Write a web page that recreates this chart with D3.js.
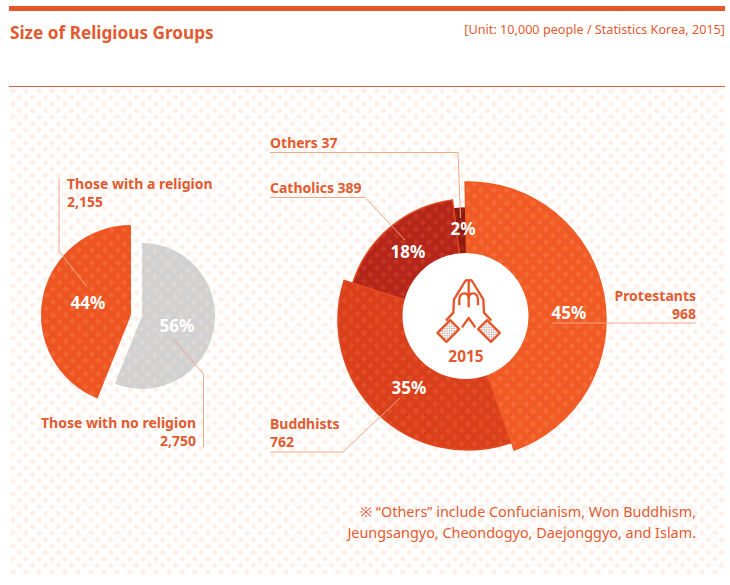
<!DOCTYPE html>
<html>
<head>
<meta charset="utf-8">
<script src="https://cdn.jsdelivr.net/npm/d3@7"></script>
<style>
  html, body { margin: 0; padding: 0; background: #fff; }
  svg { display: block; }
  text { font-family: "Noto Sans", "Noto Sans CJK KR", sans-serif; }
</style>
</head>
<body>
<svg id="chart" width="730" height="585"></svg>
<script>
'use strict';

var title = 'Size of Religious Groups';
var unitNote = '[Unit: 10,000 people / Statistics Korea, 2015]';
var footNotes = ['※ “Others” include Confucianism, Won Buddhism,', 'Jeungsangyo, Cheondogyo, Daejonggyo, and Islam.'];

var shareGroups = ['Those with no religion', 'Those with a religion'];
var shareValues = [2750, 2155];

var groups = ['Protestants', 'Buddhists', 'Catholics', 'Others'];
var groupValues = [968, 762, 389, 37];
var centerYear = '2015';

var ORANGE = '#e35a31';
var LEADER = '#f0a988';
var TILE = 13;

var svg = d3.select('#chart');
var defs = svg.append('defs');

function addPattern(id, base, dot) {
  var p = defs.append('pattern')
    .attr('id', id)
    .attr('patternUnits', 'userSpaceOnUse')
    .attr('width', TILE)
    .attr('height', TILE);
  p.append('rect').attr('width', TILE).attr('height', TILE).attr('fill', base);
  [[0, 0], [TILE, 0], [0, TILE], [TILE, TILE], [TILE / 2, TILE / 2]].forEach(function (c) {
    p.append('path')
      .attr('d', 'M' + c[0] + ' ' + (c[1] - 3.2) + 'L' + (c[0] + 3.2) + ' ' + c[1] + 'L' + c[0] + ' ' + (c[1] + 3.2) + 'L' + (c[0] - 3.2) + ' ' + c[1] + 'Z')
      .attr('fill', dot);
  });
}
addPattern('bg', '#ffffff', '#fdf0e9');
addPattern('p-prot', '#f15a24', '#f36a35');
addPattern('p-budd', '#da3f1b', '#e14c25');
addPattern('p-cath', '#b5251a', '#c03420');
addPattern('p-oth', '#8f1a10', '#9e2614');
addPattern('p-rel', '#ee5421', '#f16430');
addPattern('p-non', '#d1d1d1', '#dad7d4');

// frame
svg.append('rect').attr('x', 10).attr('y', 87).attr('width', 715).attr('height', 488).attr('fill', 'url(#bg)');
svg.append('rect').attr('x', 9).attr('y', 6).attr('width', 716).attr('height', 5).attr('fill', '#e8552a');
svg.append('line').attr('x1', 9).attr('x2', 725).attr('y1', 86.5).attr('y2', 86.5).attr('stroke', '#e0603a').attr('stroke-width', 1);

svg.append('text').attr('x', 10).attr('y', 39).attr('font-size', 17.2).attr('font-weight', 700).attr('fill', ORANGE).text(title);
svg.append('text').attr('x', 725).attr('y', 34).attr('text-anchor', 'end').attr('font-size', 12.65).attr('fill', ORANGE).text(unitNote);

var fmt = d3.format(',');
var pct = d3.format('.0%');

// left pie
var shareFills = ['url(#p-non)', 'url(#p-rel)'];
var shareCenters = [[142, 316], [131, 315]];
var shareRadius = [73, 90];
var shareTotal = d3.sum(shareValues);
var sharePie = d3.pie().sort(null)(shareValues);

sharePie.forEach(function (d, i) {
  svg.append('path')
    .attr('transform', 'translate(' + shareCenters[i] + ')')
    .attr('d', d3.arc().innerRadius(0).outerRadius(shareRadius[i])(d))
    .attr('fill', shareFills[i]);
});

// donut, drawn back to front so the larger slices overlap the smaller ones
var donutCenter = [468, 320];
var donutRadius = d3.scaleOrdinal().domain(groups).range([138, 130, 121, 112]);
var groupFills = d3.scaleOrdinal().domain(groups).range(['url(#p-prot)', 'url(#p-budd)', 'url(#p-cath)', 'url(#p-oth)']);
var groupStroke = d3.scaleOrdinal().domain(groups).range(['#f15a24', '#e2491f', '#e2491f', '#8f1a10']);
var groupTotal = d3.sum(groupValues);
var tilt = -1.2 * Math.PI / 180;
var groupPie = d3.pie().sort(null).startAngle(tilt).endAngle(2 * Math.PI + tilt)(groupValues);

var donut = svg.append('g').attr('transform', 'translate(' + donutCenter + ')');
groupPie.slice().reverse().forEach(function (d) {
  var name = groups[d.index];
  donut.append('path')
    .attr('d', d3.arc().innerRadius(0).outerRadius(donutRadius(name))(d))
    .attr('fill', groupFills(name))
    .attr('stroke', groupStroke(name))
    .attr('stroke-width', 1.5);
});

svg.append('circle').attr('cx', 465.5).attr('cy', 316).attr('r', 63).attr('fill', '#fff');

// leader lines
var leaders = [
  [[59, 178], [59, 251], [87, 287]],
  [[174, 340], [203.5, 374], [203.5, 447]],
  [[270, 152.5], [458, 152.5], [460.5, 218]],
  [[270, 197.5], [365, 197.5], [405, 240]],
  [[270, 452], [343, 452], [400, 398]],
  [[552, 323], [696, 323]]
];
var leaderLine = d3.line();
leaders.forEach(function (pts) {
  svg.append('path').attr('d', leaderLine(pts)).attr('fill', 'none').attr('stroke', LEADER).attr('stroke-width', 1);
});

function label(x, y, lines, anchor, size) {
  lines.forEach(function (t, i) {
    svg.append('text')
      .attr('x', x).attr('y', y + i * 18)
      .attr('text-anchor', anchor)
      .attr('font-size', size || 14)
      .attr('font-weight', 700)
      .attr('fill', ORANGE)
      .text(t);
  });
}

label(67, 189, [shareGroups[1], fmt(shareValues[1])], 'start');
label(196, 428, [shareGroups[0], fmt(shareValues[0])], 'end');
label(270, 148, [groups[3] + ' ' + fmt(groupValues[3])], 'start');
label(270, 193, [groups[2] + ' ' + fmt(groupValues[2])], 'start');
label(270, 429, [groups[1], fmt(groupValues[1])], 'start');
label(696, 301, [groups[0], fmt(groupValues[0])], 'end');

// percentages on the slices
var pctSpots = [[569, 319], [409, 394], [408, 258], [463, 235]];
groupValues.forEach(function (v, i) {
  svg.append('text').attr('x', pctSpots[i][0]).attr('y', pctSpots[i][1])
    .attr('text-anchor', 'middle').attr('font-size', 17).attr('font-weight', 700).attr('fill', '#fff')
    .text(pct(v / groupTotal));
});
var sharePctSpots = [[177, 332], [88, 309]];
shareValues.forEach(function (v, i) {
  svg.append('text').attr('x', sharePctSpots[i][0]).attr('y', sharePctSpots[i][1])
    .attr('text-anchor', 'middle').attr('font-size', 17).attr('font-weight', 700).attr('fill', '#fff')
    .text(pct(v / shareTotal));
});

// praying hands icon, drawn in 3x units
var dots = defs.append('pattern').attr('id', 'dots').attr('patternUnits', 'userSpaceOnUse').attr('width', 10).attr('height', 10);
dots.append('circle').attr('cx', 2.5).attr('cy', 2.5).attr('r', 1.7).attr('fill', '#7d4632');
dots.append('circle').attr('cx', 7.5).attr('cy', 7.5).attr('r', 1.7).attr('fill', '#7d4632');

var icon = svg.append('g').attr('transform', 'translate(430,270) scale(0.3333)')
  .attr('fill', 'none').attr('stroke', '#e8552a').attr('stroke-width', 7).attr('stroke-linejoin', 'round');
icon.append('path').attr('d', 'M48 152L70 128L72 88L104 36Q110 27 116 32Q122 27 128 36L160 88L162 128L184 152');
icon.append('path').attr('d', 'M116 32L116 112');
icon.append('path').attr('d', 'M88 106L88 88Q90 70 102 70Q116 70 116 84Q116 70 130 70Q142 70 144 88L144 106');
icon.append('path').attr('d', 'M96 172L116 144L136 172');
icon.append('rect').attr('x', -27).attr('y', -19).attr('width', 54).attr('height', 38)
  .attr('transform', 'translate(55,183) rotate(-45)').attr('fill', 'url(#dots)');
icon.append('rect').attr('x', -27).attr('y', -19).attr('width', 54).attr('height', 38)
  .attr('transform', 'translate(177,183) rotate(45)').attr('fill', 'url(#dots)');

svg.append('text').attr('x', 466).attr('y', 362).attr('text-anchor', 'middle').attr('font-size', 15.5).attr('font-weight', 700).attr('fill', ORANGE).text(centerYear);

footNotes.forEach(function (t, i) {
  svg.append('text').attr('x', 696).attr('y', 517 + i * 20.5).attr('text-anchor', 'end').attr('font-size', 14.4).attr('fill', ORANGE).text(t);
});
</script>
</body>
</html>
